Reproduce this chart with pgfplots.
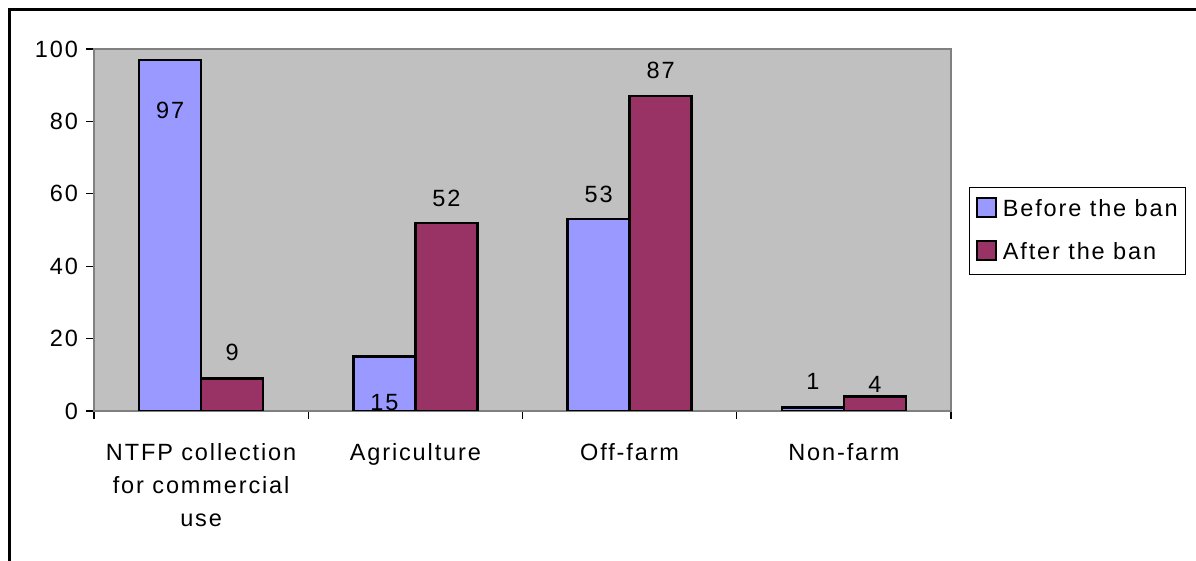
\documentclass[border=0pt]{standalone}
\usepackage{fontspec}
\setmainfont{Liberation Sans}[LetterSpace=8]
\usepackage{pgfplots}
\usepackage{pgfplotstable}
\pgfplotsset{compat=1.18}

\definecolor{before}{HTML}{9999FF}
\definecolor{after}{HTML}{993366}
\definecolor{plotbg}{HTML}{C0C0C0}
\definecolor{framegray}{HTML}{808080}

% shares of households by livelihood, with a vertical label offset per bar
\pgfplotstableread{
x y dy
0 97 -68
1 15 -63
2 53 7
3 1 9
}\beforeban
\pgfplotstableread{
x y dy
0 9 9
1 52 7
2 87 8
3 4 -5
}\afterban

\begin{document}
\fontsize{23.5}{33}\selectfont
\begin{tikzpicture}[x=1pt,y=1pt]
\path[use as bounding box] (0,0) rectangle (1196,561);
\draw[line width=3pt] (9.5,0) -- (9.5,551.5) -- (1196,551.5);
\begin{axis}[
  at={(94pt,150pt)}, anchor=south west,
  scale only axis, width=857pt, height=362pt,
  xmin=-0.5, xmax=3.5, ymin=0, ymax=100,
  ybar=0pt, bar width=0.289,
  /pgf/number format/assume math mode=true,
  axis background/.style={fill=plotbg},
  axis line style={draw=framegray, line width=2.5pt},
  xtick pos=bottom, ytick pos=left,
  ytick={0,20,...,100},
  xtick={-0.5,0.5,1.5,2.5,3.5}, xticklabels={},
  extra x ticks={0,1,2,3},
  extra x tick labels={{NTFP collection\\for commercial\\use},Agriculture,Off-farm,Non-farm},
  extra x tick style={major tick length=0pt, xticklabel style={yshift=-24pt}},
  tick align=outside, major tick length=8pt,
  tick style={black, line width=1.2pt},
  xticklabel style={align=center, font=\fontsize{23.5}{33}\selectfont},
  yticklabel style={font=\fontsize{23.5}{33}\selectfont},
  nodes near coords,
  visualization depends on={\thisrow{dy} \as \dy},
  nodes near coords style={font=\fontsize{23.5}{33}\selectfont, yshift=\dy pt, black},
  sq legend/.style={legend image code/.code={
      \draw[##1, line width=1.8pt, draw=black] (0pt,-9.5pt) rectangle (19pt,9.5pt);
      \path[draw=none, fill=none] (19pt,0pt) -- (24pt,0pt);}},
  legend cell align=left,
  legend style={at={(axis description cs:1.0215,0.619)}, anchor=north west,
    draw=black, line width=1pt, font=\fontsize{23.5}{33}\selectfont,
    row sep=18pt, inner xsep=6pt, inner ysep=10pt,
    nodes={yshift=-2pt}},
]
\addplot[fill=before, draw=black, line width=2.5pt, sq legend] table[x=x,y=y] {\beforeban};
\addplot[fill=after, draw=black, line width=2.5pt, sq legend] table[x=x,y=y] {\afterban};
\legend{Before the ban, After the ban}
\end{axis}
\end{tikzpicture}
\end{document}
